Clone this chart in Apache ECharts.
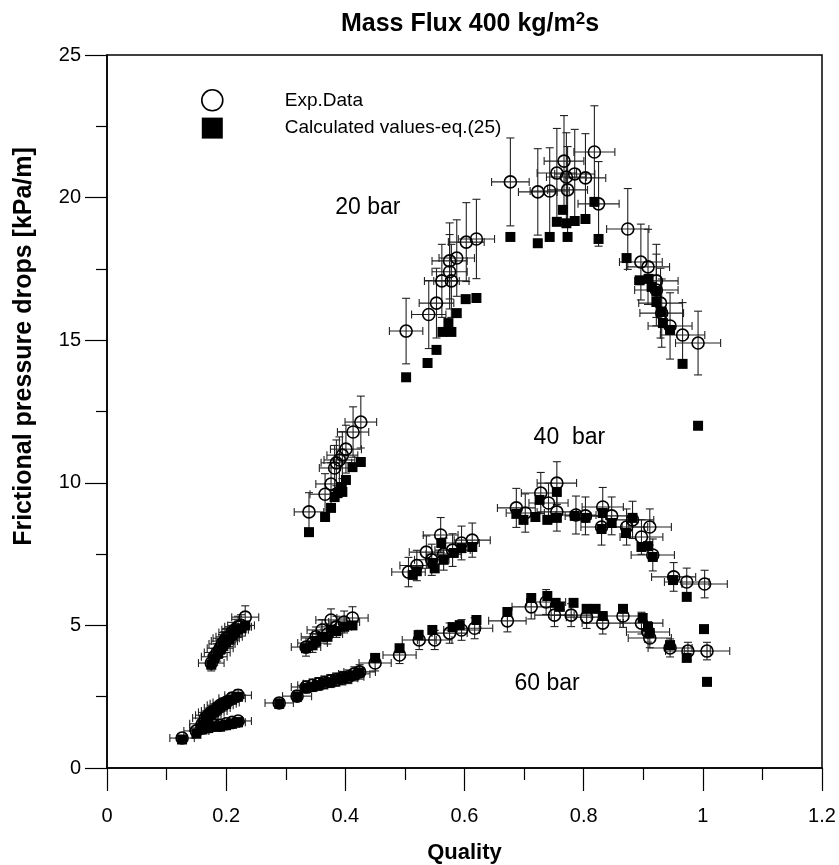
<!DOCTYPE html>
<html><head><meta charset="utf-8">
<script src="https://cdn.jsdelivr.net/npm/echarts@6/dist/echarts.min.js"></script>
<style>html,body{margin:0;padding:0;background:#fff}#c{width:839px;height:865px}</style>
</head><body><div id="c"></div>
<script>
// ---- Data (Quality, Frictional pressure drop kPa/m) ----
const exp20 = [[0.502,15.32],[0.540,15.9],[0.553,16.3],[0.562,17.08],[0.578,17.08],[0.575,17.4],[0.575,17.78],[0.587,17.88],[0.603,18.44],[0.620,18.55],[0.677,20.55],[0.723,20.2],[0.743,20.23],[0.755,20.86],[0.767,21.28],[0.771,20.72],[0.773,20.27],[0.785,20.83],[0.803,20.69],[0.818,21.6],[0.825,19.78],[0.874,18.9],[0.896,17.74],[0.908,17.57],[0.922,17.08],[0.922,16.76],[0.929,16.3],[0.931,15.95],[0.945,15.5],[0.966,15.18],[0.992,14.9],
  [0.339,8.98],[0.366,9.6],[0.376,9.96],[0.382,10.52],[0.385,10.7],[0.390,10.8],[0.395,10.97],[0.401,11.18],[0.413,11.78],[0.426,12.13]];
const calc20 = [[0.502,13.7],[0.538,14.2],[0.553,14.66],[0.563,15.29],[0.578,15.29],[0.573,15.6],[0.587,15.95],[0.602,16.44],[0.620,16.48],[0.677,18.62],[0.723,18.4],[0.743,18.62],[0.755,19.15],[0.765,19.57],[0.771,19.1],[0.773,18.62],[0.785,19.18],[0.803,19.25],[0.818,19.85],[0.825,18.55],[0.872,17.88],[0.894,17.1],[0.909,17.15],[0.914,16.87],[0.922,16.7],[0.922,16.34],[0.931,15.99],[0.933,15.6],[0.945,15.36],[0.966,14.17],[0.992,12.0],
  [0.339,8.27],[0.366,8.8],[0.376,9.12],[0.382,9.5],[0.387,9.64],[0.393,9.85],[0.395,9.68],[0.401,10.1],[0.412,10.55],[0.426,10.73]];
const exp40 = [[0.175,3.68],[0.180,3.9],[0.185,4.05],[0.19,4.2],[0.193,4.35],[0.197,4.45],[0.2,4.55],[0.205,4.6],[0.21,4.75],[0.215,4.85],[0.22,4.95],[0.225,5.0],[0.232,5.29],
  [0.334,4.24],[0.345,4.38],[0.351,4.6],[0.361,4.84],[0.370,4.7],[0.376,5.19],[0.385,4.95],[0.398,5.12],[0.412,5.26],
  [0.506,6.87],[0.52,7.1],[0.536,7.57],[0.545,7.3],[0.56,8.17],[0.565,7.5],[0.58,7.64],[0.595,7.89],[0.613,7.99],
  [0.687,9.12],[0.702,8.94],[0.728,9.64],[0.741,9.29],[0.755,9.99],[0.755,8.98],[0.787,8.87],[0.803,8.84],[0.832,9.15],[0.847,8.84],[0.830,8.45],[0.872,8.45],[0.882,8.7],[0.911,8.45],[0.897,8.1],[0.916,7.47],[0.951,6.7],[0.973,6.52],[1.003,6.45]];
const calc40 = [[0.175,3.62],[0.18,3.85],[0.186,4.0],[0.19,4.15],[0.195,4.3],[0.2,4.4],[0.205,4.5],[0.21,4.65],[0.215,4.75],[0.22,4.85],[0.226,4.9],[0.232,5.0],
  [0.334,4.2],[0.345,4.3],[0.351,4.45],[0.361,4.6],[0.37,4.6],[0.376,4.85],[0.385,4.8],[0.398,4.95],[0.412,5.0],
  [0.513,6.77],[0.52,6.9],[0.546,7.19],[0.55,7.0],[0.561,7.89],[0.565,7.3],[0.582,7.54],[0.595,7.71],[0.613,7.75],
  [0.687,8.91],[0.699,8.7],[0.719,8.8],[0.726,9.4],[0.739,8.7],[0.755,9.68],[0.755,8.77],[0.785,8.84],[0.803,8.77],[0.832,8.94],[0.830,8.38],[0.847,8.59],[0.871,8.24],[0.882,8.77],[0.897,7.75],[0.908,7.78],[0.916,7.4],[0.950,6.59],[0.973,6.0]];
const exp60 = [[0.126,1.05],[0.15,1.3],[0.16,1.55],[0.165,1.75],[0.17,1.85],[0.175,1.95],[0.18,2.0],[0.185,2.1],[0.19,2.2],[0.195,2.25],[0.2,2.3],[0.21,2.45],[0.22,2.55],
  [0.16,1.4],[0.17,1.45],[0.18,1.5],[0.19,1.5],[0.2,1.55],[0.21,1.6],[0.22,1.65],
  [0.289,2.28],[0.319,2.52],[0.334,2.84],[0.345,2.9],[0.355,2.95],[0.365,3.0],[0.375,3.05],[0.385,3.1],[0.395,3.15],[0.405,3.2],[0.415,3.3],[0.424,3.37],[0.45,3.68],[0.491,3.96],[0.524,4.49],[0.55,4.49],[0.575,4.73],[0.595,4.84],[0.617,4.9],
  [0.672,5.16],[0.712,5.65],[0.737,5.82],[0.751,5.36],[0.779,5.36],[0.805,5.29],[0.832,5.08],[0.866,5.33],[0.897,5.08],[0.908,4.77],[0.911,4.56],[0.945,4.21],[0.975,4.1],[1.007,4.1]];
const calc60 = [[0.126,1.0],[0.15,1.2],[0.16,1.5],[0.165,1.7],[0.17,1.8],[0.175,1.9],[0.18,1.95],[0.185,2.05],[0.19,2.15],[0.195,2.2],[0.2,2.25],[0.21,2.4],[0.22,2.5],
  [0.16,1.35],[0.17,1.4],[0.18,1.45],[0.19,1.45],[0.2,1.5],[0.21,1.55],[0.22,1.6],
  [0.289,2.25],[0.319,2.5],[0.334,2.8],[0.345,2.85],[0.355,2.9],[0.365,3.0],[0.375,3.0],[0.385,3.1],[0.395,3.15],[0.405,3.2],[0.415,3.25],[0.424,3.35],[0.45,3.86],[0.491,4.2],[0.523,4.66],[0.546,4.84],[0.58,4.94],[0.592,5.01],[0.62,5.19],
  [0.672,5.47],[0.712,5.96],[0.739,6.03],[0.753,5.79],[0.760,5.65],[0.783,5.79],[0.805,5.58],[0.820,5.58],[0.832,5.33],[0.866,5.58],[0.899,5.26],[0.908,4.95],[0.911,4.73],[0.945,4.31],[0.973,3.86],[1.002,4.87],[1.007,3.02]];
// measurement uncertainty of the experimental data
const ERR_X_ABS = 0.018, ERR_X_REL = 0.02, ERR_Y_REL = 0.075;
const xTicks = [0, 0.2, 0.4, 0.6, 0.8, 1, 1.2];
const yTicks = [0, 5, 10, 15, 20, 25];
const annotations = [[0.383, 19.64, '20 bar'], [0.716, 11.6, '40  bar'], [0.684, 2.95, '60 bar']];

const expAll = exp20.concat(exp40, exp60);
const calcAll = calc20.concat(calc40, calc60);

const chart = echarts.init(document.getElementById('c'), null, {renderer: 'canvas'});
const FONT = 'Liberation Sans, Arial, sans-serif';

const errorBars = {
  type: 'custom', name: 'err', silent: true, z: 1,
  encode: {x: 0, y: 1},
  data: expAll,
  renderItem(params, api) {
    const x = api.value(0), y = api.value(1);
    const dx = ERR_X_ABS + ERR_X_REL * x, dy = ERR_Y_REL * y;
    const c = api.coord([x, y]);
    const l = api.coord([x - dx, y])[0], r = api.coord([x + dx, y])[0];
    const t = api.coord([x, y + dy])[1], b = api.coord([x, y - dy])[1];
    const cap = 4;
    const st = {stroke: '#222', lineWidth: 1.1};
    return {type: 'group', children: [
      {type: 'line', shape: {x1: l, y1: c[1], x2: r, y2: c[1]}, style: st},
      {type: 'line', shape: {x1: l, y1: c[1] - cap, x2: l, y2: c[1] + cap}, style: st},
      {type: 'line', shape: {x1: r, y1: c[1] - cap, x2: r, y2: c[1] + cap}, style: st},
      {type: 'line', shape: {x1: c[0], y1: t, x2: c[0], y2: b}, style: st},
      {type: 'line', shape: {x1: c[0] - cap, y1: t, x2: c[0] + cap, y2: t}, style: st},
      {type: 'line', shape: {x1: c[0] - cap, y1: b, x2: c[0] + cap, y2: b}, style: st}
    ]};
  }
};

chart.setOption({
  animation: false,
  backgroundColor: '#fff',
  title: {
    text: 'Mass Flux 400 kg/m{sup|2}s',
    left: 465, top: 6, textAlign: 'center',
    textStyle: {fontFamily: FONT, fontSize: 25, fontWeight: 'bold', color: '#000',
      rich: {sup: {fontFamily: FONT, fontSize: 17, fontWeight: 'bold', color: '#000', padding: [0, 0, 10, 0]}}}
  },
  legend: {
    orient: 'vertical', left: 196, top: 84, itemWidth: 21, itemHeight: 21, itemGap: 6,
    textStyle: {fontFamily: FONT, fontSize: 19, color: '#000', padding: [0, 0, 0, 57]},
    data: [
      {name: 'Exp.Data', icon: 'circle', itemStyle: {color: '#fff', borderColor: '#000', borderWidth: 1.6, opacity: 1}},
      {name: 'Calculated values-eq.(25)', icon: 'rect', itemStyle: {color: '#000', opacity: 1}}
    ]
  },
  grid: {left: 107, right: 17, top: 55, bottom: 97, show: true, borderColor: '#000', borderWidth: 1.5,
    containLabel: false, outerBoundsMode: 'none'},
  xAxis: {
    type: 'value', min: 0, max: 1.2, interval: 0.2,
    name: 'Quality', nameLocation: 'middle', nameGap: 74,
    nameTextStyle: {fontFamily: FONT, fontSize: 22, fontWeight: 'bold', color: '#000'},
    axisLine: {lineStyle: {color: '#000', width: 1.5}},
    axisTick: {show: true, inside: false, length: 23, lineStyle: {color: '#000', width: 1.2}},
    minorTick: {show: true, splitNumber: 2, length: 12, lineStyle: {color: '#000', width: 1.2}},
    axisLabel: {fontFamily: FONT, fontSize: 20, color: '#000', margin: 38},
    splitLine: {show: false}
  },
  yAxis: {
    type: 'value', min: 0, max: 25, interval: 5,
    name: 'Frictional pressure drops [kPa/m]', nameLocation: 'middle', nameGap: 70,
    nameTextStyle: {fontFamily: FONT, fontSize: 25, fontWeight: 'bold', color: '#000', padding: [0, 0, 0, 130]},
    axisLine: {lineStyle: {color: '#000', width: 1.5}},
    axisTick: {show: true, inside: false, length: 22, lineStyle: {color: '#000', width: 1.2}},
    minorTick: {show: true, splitNumber: 2, length: 11, lineStyle: {color: '#000', width: 1.2}},
    axisLabel: {fontFamily: FONT, fontSize: 20, color: '#000', margin: 26},
    splitLine: {show: false}
  },
  series: [
    errorBars,
    {
      type: 'scatter', name: 'Calculated values-eq.(25)', z: 3,
      symbol: 'rect', symbolSize: 10,
      itemStyle: {color: '#000', opacity: 1},
      data: calcAll
    },
    {
      type: 'scatter', name: 'Exp.Data', z: 4,
      symbol: 'circle', symbolSize: 12,
      itemStyle: {color: 'rgba(255,255,255,0)', borderColor: '#000', borderWidth: 1.6, opacity: 1},
      data: expAll
    },
    {
      type: 'scatter', name: 'labels', z: 5, silent: true, symbolSize: 0,
      itemStyle: {opacity: 1},
      data: annotations,
      label: {show: true, position: 'inside', align: 'left', verticalAlign: 'middle',
        formatter: p => p.data[2], fontFamily: FONT, fontSize: 23, color: '#000'}
    }
  ]
});
</script></body></html>
